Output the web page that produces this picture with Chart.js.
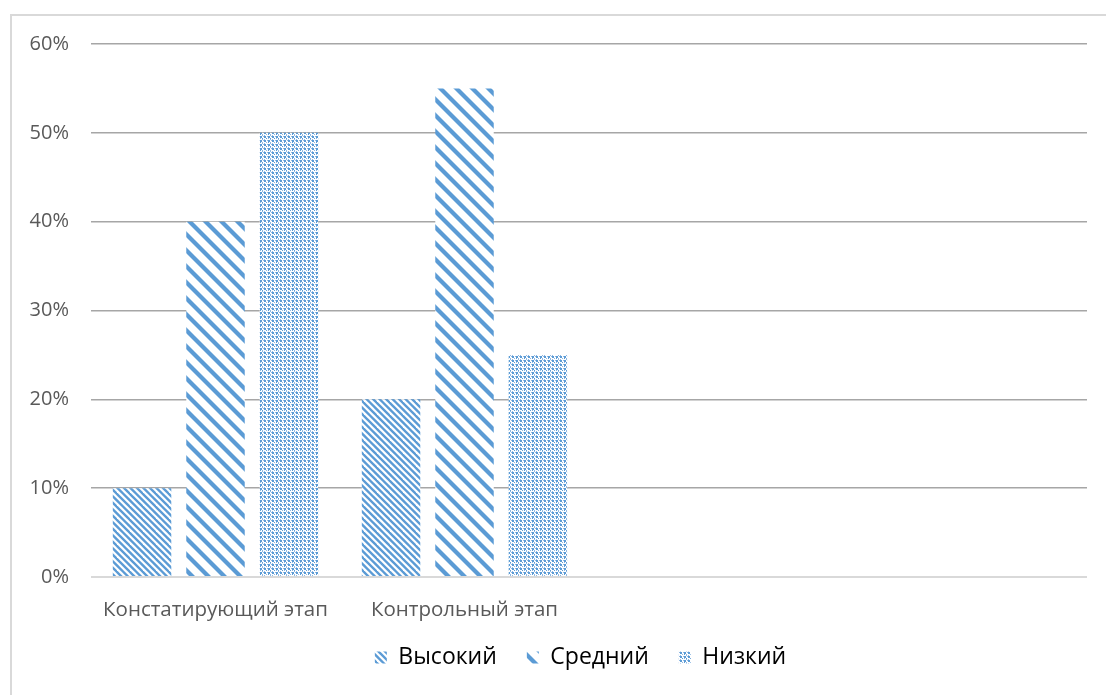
<!DOCTYPE html>
<html>
<head>
<meta charset="utf-8">
<script src="https://cdn.jsdelivr.net/npm/chart.js@4.4.1/dist/chart.umd.min.js"></script>
<style>
  html, body { margin: 0; padding: 0; background: #ffffff; overflow: hidden; }
  #frame { position: absolute; left: 10px; top: 14px; width: 1200px; height: 800px;
           border-left: 2px solid #d9d9d9; border-top: 2px solid #d9d9d9; }
  #c { position: absolute; left: 0; top: 0; }
</style>
</head>
<body>
<div id="frame"></div>
<canvas id="c" width="1106" height="695"></canvas>
<script>
// ---- data ----
const categories = ["Констатирующий этап", "Контрольный этап", "", ""];
const seriesNames = ["Высокий", "Средний", "Низкий"];
const highValues = [10, 20, null, null];
const mediumValues = [40, 55, null, null];
const lowValues = [50, 25, null, null];
const yTicks = [0, 10, 20, 30, 40, 50, 60];

const BLUE = '#5b9bd5';

function diagPattern(tile, period, lineW) {
  const cv = document.createElement('canvas');
  cv.width = tile; cv.height = tile;
  const g = cv.getContext('2d');
  g.fillStyle = '#ffffff';
  g.fillRect(0, 0, tile, tile);
  g.strokeStyle = BLUE;
  g.lineWidth = lineW;
  g.lineCap = 'butt';
  const n = Math.round(tile / period);
  for (let k = -n - 2; k <= 2 * n + 2; k++) {
    const c = k * period;
    g.beginPath();
    g.moveTo(c - tile, -tile);
    g.lineTo(c + 2 * tile, 2 * tile);
    g.stroke();
  }
  return g.createPattern(cv, 'repeat');
}

function bitmapPattern(rows) {
  const h = rows.length, w = rows[0].length;
  const cv = document.createElement('canvas');
  cv.width = w; cv.height = h;
  const g = cv.getContext('2d');
  g.fillStyle = '#ffffff';
  g.fillRect(0, 0, w, h);
  for (let y = 0; y < h; y++) {
    for (let x = 0; x < w; x++) {
      const ch = rows[y][x];
      if (ch === 'X') { g.fillStyle = BLUE; g.fillRect(x, y, 1, 1); }
      else if (ch === 'o') { g.fillStyle = '#8fb8e3'; g.fillRect(x, y, 1, 1); }
    }
  }
  return g.createPattern(cv, 'repeat');
}

const ctx0 = document.getElementById('c').getContext('2d');
const patHigh = diagPattern(13, 6.5, 2.3);
const patMed = diagPattern(16, 16, 4.2);
const patLow = bitmapPattern([
  "XX.oXX.o",
  "XX..XX..",
  "..X.o.X.",
  "o.....o.",
  "XX.oXX.o",
  "XX..XX..",
  "..o.X.o.",
  "o.....o."
]);

const legendPlace = {
  id: 'legendPlace',
  afterLayout(chart) {
    const lg = chart.legend;
    if (lg) {
      lg.left = 74;
      const h = lg.bottom - lg.top;
      lg.top = 616;
      lg.bottom = 616 + h;
    }
  }
};

const chart = new Chart(ctx0, {
  type: 'bar',
  data: {
    labels: categories,
    datasets: [
      { label: seriesNames[0], data: highValues, backgroundColor: patHigh, borderWidth: 0 },
      { label: seriesNames[1], data: mediumValues, backgroundColor: patMed, borderWidth: 0 },
      { label: seriesNames[2], data: lowValues, backgroundColor: patLow, borderWidth: 0 }
    ]
  },
  plugins: [legendPlace],
  options: {
    responsive: false,
    animation: false,
    events: [],
    layout: { padding: { left: 0, right: 19, top: 44, bottom: 0 } },
    datasets: { bar: { categoryPercentage: 0.885, barPercentage: 0.796 } },
    plugins: {
      tooltip: { enabled: false },
      legend: {
        position: 'bottom',
        labels: {
          boxWidth: 12, boxHeight: 12, padding: 30,
          color: '#000000',
          font: { family: '"Open Sans", sans-serif', size: 23 }
        }
      }
    },
    scales: {
      x: {
        grid: { display: false, drawTicks: false },
        border: { display: false },
        ticks: {
          color: '#595959', padding: 21, maxRotation: 0, autoSkip: false,
          font: { family: '"Open Sans", sans-serif', size: 20.5 }
        },
        afterFit: (s) => { s.height = 55; }
      },
      y: {
        min: yTicks[0], max: yTicks[yTicks.length - 1],
        afterBuildTicks: (s) => { s.ticks = yTicks.map(v => ({ value: v })); },
        grid: {
          drawTicks: false,
          color: (c) => c.tick && c.tick.value === 0 ? '#d9d9d9' : '#a6a6a6',
          lineWidth: (c) => c.tick && c.tick.value === 0 ? 2 : 1.5
        },
        border: { display: false },
        ticks: {
          color: '#595959', padding: 22,
          font: { family: '"Open Sans", sans-serif', size: 20 },
          callback: (v) => v + '%'
        },
        afterFit: (s) => { s.width = 91; }
      }
    }
  }
});
</script>
</body>
</html>
